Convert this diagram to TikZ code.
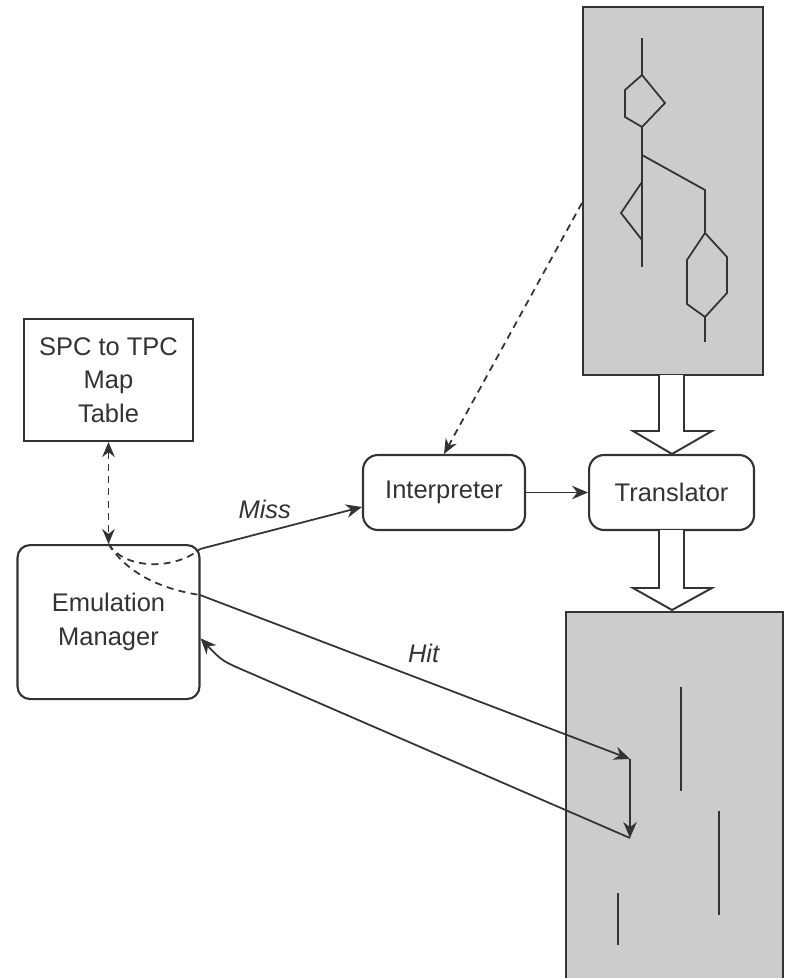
\documentclass[tikz,border=0pt]{standalone}
\usepackage{fontspec}
\setmainfont{Liberation Sans}
\usetikzlibrary{arrows.meta,positioning}
\tikzstyle{mapbox} = [rectangle, draw, line width=1.2pt, align=center,
    minimum width=3.38cm, minimum height=2.44cm]
\tikzstyle{unit} = [rectangle, draw, line width=1.2pt, align=center,
    rounded corners=0.3cm, minimum height=1.5cm]
\tikzstyle{store} = [rectangle, fill=black!20, inner sep=0pt]
\tikzstyle{line} = [draw, line width=1pt, -{Stealth[length=3.2mm, width=2.7mm]}]
\tikzstyle{dline} = [draw, line width=1pt, dash pattern=on 4pt off 3pt]
\tikzstyle{fatarrow} = [draw, line width=1.1pt, fill=white, line join=miter]
\tikzstyle{tag} = [font=\fontsize{14.5}{19}\selectfont\itshape]

\begin{document}
\begin{tikzpicture}[x=0.02cm, y=-0.02cm, color=black!80,
    font=\fontsize{14.5}{19}\selectfont]
    \useasboundingbox (0,0) rectangle (788,978);
    % Place nodes
    \node [mapbox] (map) at (108.5,380) {SPC to TPC\\Map\\Table};
    \node [unit, minimum width=3.64cm, minimum height=3.08cm, rounded corners=0.25cm,
        below=2.04cm of map] (em) {Emulation\\Manager};
    \node [unit, minimum width=3.24cm] (interp) at (444,492.5) {Interpreter};
    \node [unit, minimum width=3.3cm, right=1.24cm of interp] (trans) {Translator};
    \node [store, draw, line width=1.2pt, minimum width=3.6cm, minimum height=7.36cm] (src) at (673,191) {};
    \node [store, minimum width=4.34cm, minimum height=7.32cm] (tgt) at (674.5,795) {};
    \draw [line width=1.2pt] (tgt.south west) |- (tgt.north east) -- (tgt.south east);
    % Source code blocks
    \begin{scope}[line width=1pt]
        \draw (642,38) -- (642,75);
        \draw (642,75) -- (625,90) -- (625,117) -- (642,127) -- (665,103) -- cycle;
        \draw (642,127) -- (642,267);
        \draw (642,182) -- (621,213) -- (642,240);
        \draw (642,155) -- (705,190) -- (705,233);
        \draw (705,233) -- (687,260) -- (687,304) -- (705,317) -- (727,293) -- (727,257) -- cycle;
        \draw (705,317) -- (705,342);
        % Translated code blocks
        \draw (681,687) -- (681,791);
        \draw (719,811) -- (719,915);
        \draw (618,893) -- (618,945);
    \end{scope}
    % Fat arrows
    \path [fatarrow] (659,375) -- (659,431) -- (633,431) -- (672,454) -- (712,431) -- (684,431) -- (684,375);
    \path [fatarrow] (659,530) -- (659,588) -- (633,588) -- (672,610) -- (712,588) -- (684,588) -- (684,530);
    % Points on the lookup paths
    \coordinate (missbend) at (200,549);
    \coordinate (hitbend) at (200,595);
    \coordinate (hitend) at (630,759);
    \coordinate (hitlow) at (630,838);
    \coordinate (backbend) at (250,673);
    % Draw edges
    \path [dline, {Stealth[length=3mm, width=2.5mm]}-{Stealth[length=3mm, width=2.5mm]}] (map.south) -- (em.north);
    \path [dline, -{Stealth[length=3mm, width=2.5mm]}] ([yshift=-0.24cm]src.west) -- (interp.north);
    \path [line] (interp) -- (trans);
    \path [dline] (em.north) .. controls (125,570) and (175,570) .. (missbend);
    \path [line] (missbend) -- node [tag, above, pos=0.4, yshift=0.14cm] (miss) {Miss} (interp.190);
    \path [dline] (em.north) .. controls (125,570) and (155,588) .. (hitbend);
    \path [line] (hitbend) -- node [tag, above, pos=0.52, yshift=0.22cm] (hit) {Hit} (hitend);
    \path [line] (hitend) -- (hitlow);
    \path [line] (hitlow) -- (backbend) .. controls (222,661) .. (em.-10);

\end{tikzpicture}
\end{document}
